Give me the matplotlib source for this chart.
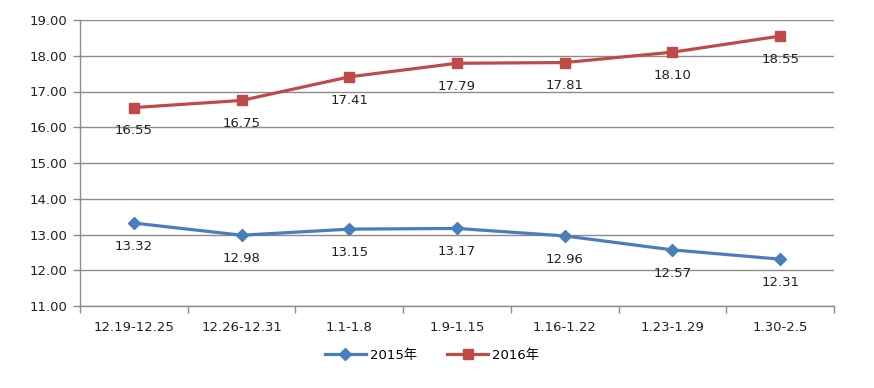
import matplotlib
matplotlib.use("Agg")
import matplotlib.pyplot as plt
import numpy as np

categories = ["12.19-12.25", "12.26-12.31", "1.1-1.8", "1.9-1.15", "1.16-1.22", "1.23-1.29", "1.30-2.5"]
s2015 = [13.32, 12.98, 13.15, 13.17, 12.96, 12.57, 12.31]
s2016 = [16.55, 16.75, 17.41, 17.79, 17.81, 18.10, 18.55]
yticks = [11, 12, 13, 14, 15, 16, 17, 18, 19]

plt.rcParams['font.family'] = ['DejaVu Sans', 'Noto Sans CJK SC']

fig = plt.figure(figsize=(8.74, 3.88), dpi=100)
ax = fig.add_axes([80/874, 1-306/388, 754/874, 286/388])

x = np.arange(len(categories))
blue = "#4A7EBB"
red = "#BE4B48"
ax.plot(x, s2015, color=blue, lw=2.3, marker="D", ms=6.5, label="2015年", zorder=3)
ax.plot(x, s2016, color=red, lw=2.3, marker="s", ms=7.5, label="2016年", zorder=3)

for xi, v in zip(x, s2015):
    ax.annotate(f"{v:.2f}", (xi, v), xytext=(0, -12), textcoords="offset points",
                ha="center", va="top", fontsize=9.5, color="#222222")
for xi, v in zip(x, s2016):
    ax.annotate(f"{v:.2f}", (xi, v), xytext=(0, -12), textcoords="offset points",
                ha="center", va="top", fontsize=9.5, color="#222222")

ax.set_xlim(-0.5, len(categories) - 0.5)
ax.set_ylim(11, 19)
ax.set_yticks(yticks)
ax.set_yticklabels([f"{t:.2f}" for t in yticks], fontsize=9.5, color="#222222")
ax.yaxis.grid(True, color="#8c8c8c", lw=1)
ax.set_axisbelow(True)

ax.set_xticks(x)
ax.set_xticklabels(categories, fontsize=9.5, color="#222222")
ax.tick_params(axis="x", which="major", length=0, pad=11)
ax.set_xticks(np.arange(-0.5, len(categories)), minor=True)
ax.tick_params(axis="x", which="minor", length=5, color="#8c8c8c", width=1)
ax.tick_params(axis="y", length=5, color="#8c8c8c", width=1, pad=4)

for s in ["top", "right"]:
    ax.spines[s].set_visible(False)
for s in ["left", "bottom"]:
    ax.spines[s].set_color("#8c8c8c")
    ax.spines[s].set_linewidth(1)

fig.legend(loc="center", bbox_to_anchor=(432/874, 1-355/388), ncol=2, frameon=False,
           fontsize=9.5, handlelength=3.1, columnspacing=2.3, handletextpad=0.3)

fig.savefig("out.png", dpi=100)
